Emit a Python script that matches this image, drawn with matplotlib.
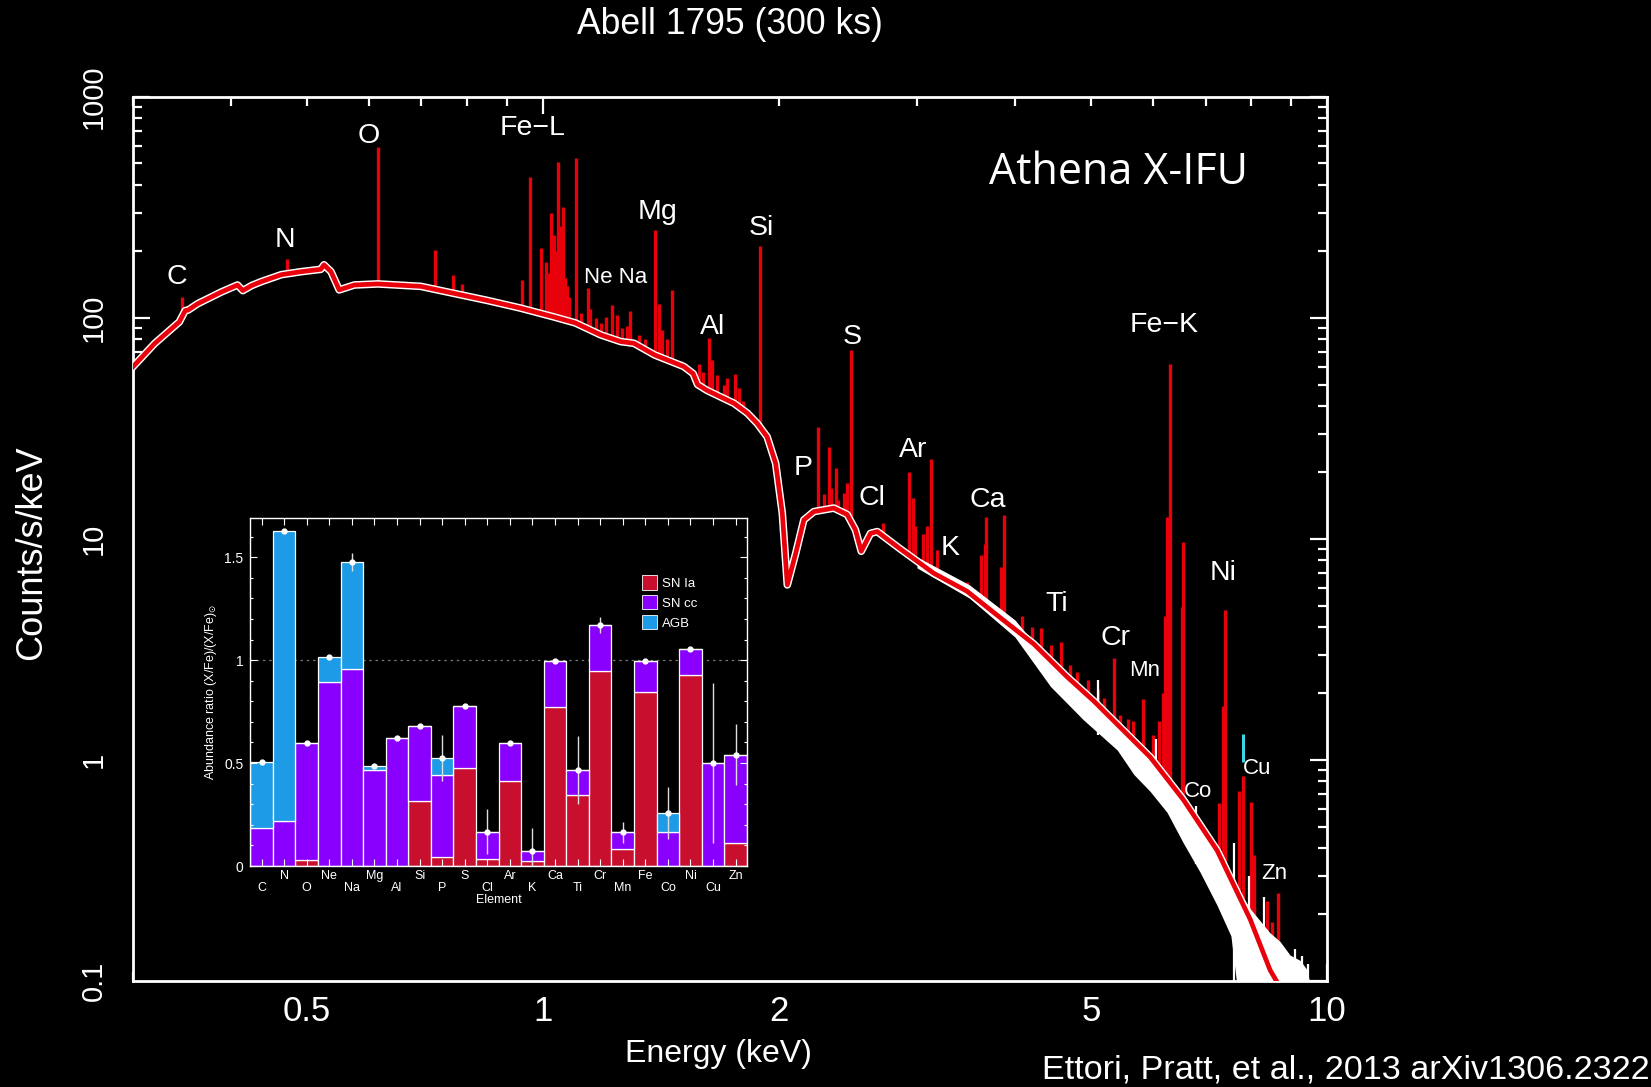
import numpy as np
import matplotlib
matplotlib.use("Agg")
import matplotlib.pyplot as plt
from matplotlib.ticker import FixedLocator, FuncFormatter, NullFormatter
from matplotlib.patches import Patch

# ---------------- main spectrum data ----------------
cont_E = [0.300, 0.320, 0.344, 0.346, 0.350, 0.353, 0.363, 0.389, 0.408, 0.4145, 0.425,
          0.4375, 0.464, 0.492, 0.521, 0.526, 0.537, 0.550, 0.575, 0.616, 0.699, 0.850,
          0.937, 1.034, 1.10, 1.186, 1.257, 1.307, 1.389, 1.513, 1.555, 1.575, 1.62,
          1.753, 1.823, 1.877, 1.932, 1.981, 2.020, 2.050, 2.101, 2.152, 2.216, 2.350,
          2.444, 2.504, 2.547, 2.617, 2.670, 2.858, 3.151, 3.475, 3.832, 4.226, 4.66,
          5.04, 5.40, 5.95, 6.56, 7.24, 7.98, 8.46, 8.62, 8.80]
cont_C = [60, 76.7, 96, 100, 108, 108.6, 116, 131, 141, 133, 140,
          146, 157, 162, 166, 174, 162, 134, 141, 142.6, 139, 120,
          110.8, 101, 95, 83.8, 78.2, 76.8, 68, 60.3, 56, 50, 47,
          41.1, 37.1, 33.3, 29, 22, 13.1, 6.2, 8.6, 12.2, 13.3, 13.8,
          12.9, 11, 8.8, 10.6, 10.8, 9.0, 7.0, 5.8, 4.4, 3.35, 2.38,
          1.85, 1.45, 1.03, 0.66, 0.39, 0.19, 0.112, 0.10, 0.08]

line_E = [0.347, 0.472, 0.616, 0.729, 0.769, 0.788, 0.940, 0.963, 0.996, 1.010, 1.018,
          1.024, 1.028, 1.034, 1.040, 1.047, 1.052, 1.056, 1.060, 1.068, 1.075, 1.080,
          1.102, 1.120, 1.142, 1.150, 1.170, 1.185, 1.203, 1.227, 1.245, 1.260, 1.280,
          1.291, 1.327, 1.350, 1.389, 1.407, 1.420, 1.440, 1.462, 1.500, 1.535, 1.580,
          1.600, 1.629, 1.645, 1.670, 1.700, 1.719, 1.756, 1.778, 1.800, 1.891, 2.243,
          2.280, 2.316, 2.330, 2.362, 2.380, 2.420, 2.440, 2.474, 2.716, 2.928, 2.963,
          2.980, 3.050, 3.090, 3.130, 3.180, 3.475, 3.620, 3.660, 3.674, 3.840, 3.870,
          4.080, 4.200, 4.318, 4.450, 4.573, 4.700, 4.800, 4.950, 5.100, 5.200, 5.355,
          5.450, 5.580, 5.650, 5.824, 6.000, 6.100, 6.180, 6.220, 6.250, 6.300, 6.540,
          6.560, 6.770, 7.290, 7.360, 7.410, 7.730, 7.810, 7.990, 8.080, 8.380, 8.510,
          8.650]
line_peak = [125, 185, 592, 203, 157, 142, 149, 433, 208, 180, 160,
             300, 180, 238, 200, 506, 260, 200, 319, 151, 140, 125,
             531, 105, 137, 110, 100, 95, 101, 114.5, 103, 90, 92,
             108, 84, 80, 250, 116, 88, 80, 134, 64, 58, 62,
             57, 81, 64.6, 55, 50, 53.4, 56, 48, 42, 212, 32.2,
             16, 26.2, 17, 20.9, 15, 16.1, 18, 71.7, 11.8, 20.2, 15.3,
             11.5, 10.5, 11.4, 23.0, 8.9, 6.4, 8.5, 9.5, 12.6, 7.5, 12.9,
             4.5, 4.0, 3.95, 3.3, 3.43, 2.7, 2.5, 2.3, 2.1, 1.9, 2.90,
             1.6, 1.54, 1.5, 1.89, 1.3, 1.5, 2.0, 4.5, 12.6, 62, 4.94,
             9.66, 0.594, 0.639, 1.75, 4.77, 0.724, 0.85, 0.646, 0.372, 0.23, 0.185,
             0.251]

# simulated data envelope (white)
white_E = [3.00, 3.50, 4.00, 4.44, 4.89, 5.40, 5.67, 5.95, 6.25, 6.56, 6.89, 7.24,
           7.54, 7.69, 8.00, 8.46, 8.71, 8.97, 9.24, 9.42, 9.56]
white_lo = [7.4, 5.4, 3.6, 2.15, 1.52, 1.11, 0.86, 0.72, 0.58, 0.42, 0.31, 0.22,
            0.16, 0.09, 0.09, 0.09, 0.09, 0.09, 0.09, 0.09, 0.09]
white_hi = [8.3, 6.2, 4.3, 2.75, 2.05, 1.50, 1.24, 1.07, 0.86, 0.69, 0.54, 0.41,
            0.30, 0.26, 0.21, 0.165, 0.151, 0.131, 0.124, 0.113, 0.09]
wspike_E = [5.10, 6.05, 6.80, 7.62, 7.95, 8.30, 9.10, 9.30, 9.45]
wspike_lo = [1.30, 0.68, 0.34, 0.09, 0.09, 0.09, 0.09, 0.09, 0.09]
wspike_top = [2.3, 1.25, 0.62, 0.42, 0.30, 0.24, 0.14, 0.13, 0.12]
cu_E = [7.81]
cu_lo = [0.98]
cu_hi = [1.31]

# element labels (label centre in data coordinates)
lab_text = ["C", "N", "O", "Fe\u2212L", "Mg", "Si", "Ne Na", "Al", "S", "Fe\u2212K", "P",
            "Cl", "Ar", "K", "Ca", "Ti", "Cr", "Mn", "Ni", "Co", "Cu", "Zn"]
lab_E = [0.341, 0.469, 0.600, 0.971, 1.401, 1.901, 1.240, 1.647, 2.483, 6.20, 2.150,
         2.625, 2.969, 3.309, 3.688, 4.517, 5.370, 5.847, 7.372, 6.849, 8.143, 8.561]
lab_C = [153, 225, 666, 724, 302, 255, 152, 91, 82, 93, 21.0,
         15.3, 25.3, 9.1, 15.0, 5.08, 3.57, 2.55, 7.0, 0.717, 0.92, 0.308]
lab_small = [False, False, False, False, False, False, True, False, False, False, False,
             False, False, False, False, False, False, True, False, True, True, True]

# ---------------- inset data ----------------
elements = ["C", "N", "O", "Ne", "Na", "Mg", "Al", "Si", "P", "S", "Cl", "Ar", "K",
            "Ca", "Ti", "Cr", "Mn", "Fe", "Co", "Ni", "Cu", "Zn"]
sn_ia = [0.0, 0.0, 0.029, 0.0, 0.0, 0.0, 0.0, 0.314, 0.042, 0.476, 0.033, 0.415, 0.024,
         0.774, 0.346, 0.945, 0.081, 0.846, 0.0, 0.927, 0.0, 0.111]
sn_cc = [0.184, 0.221, 0.569, 0.894, 0.959, 0.465, 0.623, 0.366, 0.402, 0.301, 0.134,
         0.183, 0.051, 0.223, 0.122, 0.226, 0.082, 0.151, 0.163, 0.127, 0.501, 0.430]
agb = [0.320, 1.405, 0.0, 0.119, 0.517, 0.023, 0.0, 0.0, 0.081, 0.0, 0.0, 0.0, 0.0,
       0.0, 0.0, 0.0, 0.0, 0.0, 0.094, 0.0, 0.0, 0.0]
obs_val = [0.504, 1.626, 0.598, 1.013, 1.476, 0.488, 0.623, 0.680, 0.525, 0.777, 0.167,
           0.598, 0.075, 0.997, 0.468, 1.171, 0.163, 0.997, 0.257, 1.054, 0.501, 0.541]
obs_err = [0.005, 0.008, 0.006, 0.008, 0.045, 0.006, 0.006, 0.006, 0.11, 0.006, 0.11,
           0.006, 0.11, 0.006, 0.165, 0.037, 0.05, 0.006, 0.125, 0.006, 0.39, 0.147]

# ---------------- styling ----------------
RED = "#e8000b"
WHITE = "white"
REG = ["Liberation Sans", "DejaVu Sans"]

plt.rcParams["font.family"] = REG
fig = plt.figure(figsize=(16.51, 10.87), dpi=100, facecolor="black")
ax = fig.add_axes([0.0804, 0.0975, 0.7234, 0.8133])
ax.set_facecolor("black")
ax.set_xscale("log")
ax.set_yscale("log")
ax.set_xlim(0.3, 10)
ax.set_ylim(0.1, 1000)

# spikes (their lower part is hidden below the continuum by the black fill)
ax.vlines(line_E, 0.1, line_peak, color=RED, lw=2.4, zorder=1)
ax.fill_between(cont_E, 1e-3, cont_C, color="black", lw=0, zorder=2)
# data envelope
ax.fill_between(white_E, white_lo, white_hi, color=WHITE, lw=0, zorder=3)
ax.vlines(wspike_E, wspike_lo, wspike_top, color=WHITE, lw=1.6, zorder=3)
ax.plot(cont_E, cont_C, color=WHITE, lw=5.5, zorder=4, solid_joinstyle="round")
ax.plot(cont_E, cont_C, color=RED, lw=3.4, zorder=5, solid_joinstyle="round")
ax.vlines(cu_E, cu_lo, cu_hi, color="#3fd3e6", lw=2.2, zorder=6)

for sp in ax.spines.values():
    sp.set_color(WHITE)
    sp.set_linewidth(2.0)

ax.xaxis.set_major_locator(FixedLocator([1, 10]))
ax.xaxis.set_minor_locator(FixedLocator([0.3, 0.4, 0.5, 0.6, 0.7, 0.8, 0.9,
                                         2, 3, 4, 5, 6, 7, 8, 9]))
ax.xaxis.set_major_formatter(FuncFormatter(lambda v, p: "%g" % v))
ax.xaxis.set_minor_formatter(FuncFormatter(
    lambda v, p: ("%g" % v) if any(abs(v - t) < 1e-6 for t in (0.5, 2, 5)) else ""))
ax.yaxis.set_major_locator(FixedLocator([0.1, 1, 10, 100, 1000]))
ax.yaxis.set_minor_locator(FixedLocator([m * d for d in (0.1, 1, 10, 100) for m in range(2, 10)]))
ax.yaxis.set_major_formatter(FuncFormatter(lambda v, p: "%g" % v))
ax.yaxis.set_minor_formatter(NullFormatter())

ax.tick_params(which="both", direction="in", colors=WHITE, width=1.6,
               top=True, right=True)
ax.tick_params(which="major", length=12)
ax.tick_params(which="minor", length=6.5)
ax.tick_params(axis="x", which="both", pad=10, labelsize=25)
ax.tick_params(axis="y", which="both", pad=18, labelsize=21)
for t in ax.get_yticklabels(which="both"):
    t.set_rotation(90)
    t.set_va("center")

# element labels
for e, c, s, sm in zip(lab_E, lab_C, lab_text, lab_small):
    ax.text(e, c, s, color=WHITE, fontsize=16 if sm else 20.5, ha="center",
            va="center", family=REG, zorder=7)

ax.text(0.825, 0.914, "Athena X-IFU", transform=ax.transAxes, color=WHITE,
        fontsize=31, ha="center", va="center",
        family=["Open Sans", "DejaVu Sans"])

fig.text(730 / 1651, 1 - 24 / 1087, "Abell 1795 (300 ks)", color=WHITE, fontsize=25.6,
         ha="center", va="center", family=REG)
fig.text(718 / 1651, 1 - 1054 / 1087, "Energy (keV)", color=WHITE, fontsize=23,
         ha="center", va="center", family=REG)
fig.text(32 / 1651, 1 - 553 / 1087, "Counts/s/keV", color=WHITE, fontsize=26,
         ha="center", va="center", rotation=90, family=REG)
fig.text(0.999, 1 - 1070 / 1087, "Ettori, Pratt, et al., 2013 arXiv1306.2322",
         color=WHITE, fontsize=24.6, ha="right", va="center", family=REG)

# ---------------- inset ----------------
ins = fig.add_axes([0.1516, 0.2033, 0.3008, 0.3201], zorder=10)
ins.set_facecolor("black")
x = np.arange(len(elements))
bot2 = [a + b for a, b in zip(sn_ia, sn_cc)]
ins.bar(x, sn_ia, width=1.0, color="#c8102e", edgecolor=WHITE, linewidth=0.9, label="SN Ia")
ins.bar(x, sn_cc, width=1.0, bottom=sn_ia, color="#8a00ff", edgecolor=WHITE,
        linewidth=0.9, label="SN cc")
ins.bar(x, agb, width=1.0, bottom=bot2, color="#1e9be6", edgecolor=WHITE,
        linewidth=0.9, label="AGB")
ins.errorbar(x, obs_val, yerr=obs_err, fmt="o", ms=3.5, color=WHITE, ecolor="#dddddd",
             elinewidth=1.0, capsize=0, zorder=5)
ins.axhline(1.0, color="#777777", lw=0.9, ls=(0, (2, 3)), zorder=0.5)
ins.set_xlim(-0.5, len(elements) - 0.5)
ins.set_ylim(0, 1.69)
for sp in ins.spines.values():
    sp.set_color(WHITE)
    sp.set_linewidth(1.0)
ins.set_xticks(x)
ins.set_xticklabels([("\n" + el) if i % 2 == 0 else el for i, el in enumerate(elements)],
                    fontsize=9, color=WHITE, linespacing=0.95)
ins.set_yticks([0, 0.5, 1, 1.5])
ins.set_yticklabels(["0", "0.5", "1", "1.5"], fontsize=10, color=WHITE)
ins.yaxis.set_minor_locator(FixedLocator(np.arange(0, 1.7, 0.1)))
ins.tick_params(which="both", direction="in", colors=WHITE, top=True, right=True, width=0.8)
ins.tick_params(which="major", length=5, pad=3)
ins.tick_params(which="minor", length=2.5)
ins.tick_params(axis="y", which="major", pad=5)
ins.set_xlabel("Element", color=WHITE, fontsize=9, labelpad=0)
ins.set_ylabel("Abundance ratio (X/Fe)/(X/Fe)$_{\\odot}$", color=WHITE, fontsize=9, labelpad=4)
handles = [Patch(facecolor="#c8102e", edgecolor=WHITE, lw=0.6),
           Patch(facecolor="#8a00ff", edgecolor=WHITE, lw=0.6),
           Patch(facecolor="#1e9be6", edgecolor=WHITE, lw=0.6)]
leg = ins.legend(handles, ["SN Ia", "SN cc", "AGB"], loc="upper left",
                 bbox_to_anchor=(0.765, 0.87), frameon=False, fontsize=9.5,
                 handlelength=1.1, handleheight=1.3, handletextpad=0.4, labelspacing=0.4)
for t in leg.get_texts():
    t.set_color(WHITE)

fig.savefig("out.png", dpi=100, facecolor="black")
